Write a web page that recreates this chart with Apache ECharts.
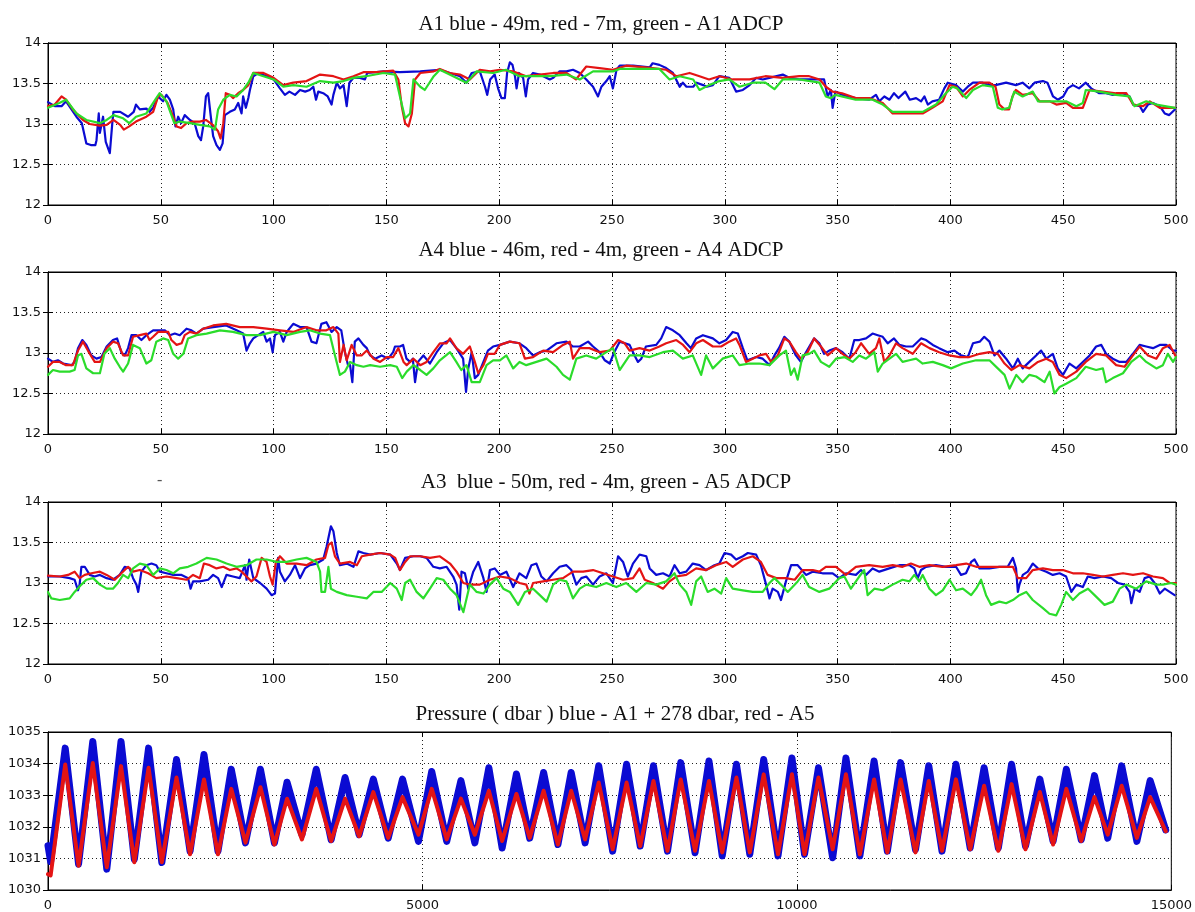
<!DOCTYPE html>
<html>
<head>
<meta charset="utf-8">
<script src="https://cdn.jsdelivr.net/npm/echarts@6/dist/echarts.min.js"></script>
<style>
  html, body { margin: 0; padding: 0; background: #fff; }
  #chart { width: 1195px; height: 912px; }
</style>
</head>
<body>
<div id="chart"></div>
<script>
// ---- panel titles ----
const panelTitles = [
  'A1 blue - 49m, red - 7m, green - A1 ADCP',
  'A4 blue - 46m, red - 4m, green - A4 ADCP',
  'A3  blue - 50m, red - 4m, green - A5 ADCP',
  'Pressure ( dbar ) blue - A1 + 278 dbar, red - A5'
];

// ---- tick labels ----
const tempTicksX = [0, 50, 100, 150, 200, 250, 300, 350, 400, 450, 500];
const tempTicksY = [12, 12.5, 13, 13.5, 14];
const pressTicksX = [0, 5000, 10000, 15000];
const pressTicksY = [1030, 1031, 1032, 1033, 1034, 1035];

// ---- A1 mooring: [record, temperature] ----
const a1Blue = [[0,13.27],[3,13.22],[6,13.22],[8,13.28],[12.6,13.09],[15,13.01],[17,12.76],[19,12.74],[21,12.74],[21.5,12.80],[22.5,13.13],[23,12.89],[24.4,13.09],[25.6,12.78],[27.4,12.64],[28,12.62],[28.5,13.01],[29,13.15],[32,13.15],[35.5,13.09],[38,13.15],[39,13.24],[40.7,13.18],[43.6,13.19],[45,13.15],[46.6,13.20],[48.8,13.34],[51,13.28],[52.5,13.36],[54,13.30],[55.5,13.18],[56.5,12.97],[57.7,13.09],[59,13.01],[60.6,13.11],[62.9,13.05],[65,13.01],[66.6,12.85],[67.8,12.80],[68.8,12.97],[70,13.34],[71,13.38],[72,13.13],[73.2,12.85],[74.7,12.74],[76.2,12.68],[77.4,12.76],[78.4,13.11],[80.6,13.15],[82.8,13.18],[84.3,13.26],[85.8,13.13],[86.5,13.34],[87.7,13.20],[88.8,13.32],[89.5,13.42],[91,13.59],[93.2,13.63],[97,13.59],[100,13.55],[102.8,13.44],[105,13.36],[107,13.40],[109.5,13.36],[111.7,13.42],[114,13.40],[116,13.42],[117.6,13.46],[118.8,13.30],[119.8,13.40],[122,13.38],[124,13.34],[125.7,13.24],[126.5,13.36],[128,13.51],[129.4,13.44],[131,13.48],[132.4,13.22],[133.6,13.51],[135.4,13.57],[138.3,13.57],[140.5,13.55],[141.5,13.63],[148.7,13.65],[156,13.64],[165,13.65],[173.7,13.67],[182.6,13.59],[185.5,13.51],[187.8,13.63],[191.4,13.65],[193.7,13.46],[194.7,13.36],[196,13.55],[198,13.61],[199.5,13.44],[201,13.32],[202.5,13.32],[203.5,13.63],[204.7,13.76],[205.9,13.73],[207,13.59],[207.7,13.44],[208.8,13.63],[210.6,13.57],[211.8,13.34],[212.8,13.55],[215,13.63],[218,13.61],[222.4,13.55],[224,13.57],[226.8,13.65],[229.8,13.65],[232.7,13.67],[235.7,13.63],[238.6,13.55],[241.6,13.46],[243.8,13.34],[245.3,13.46],[247.5,13.53],[249,13.59],[250.4,13.44],[252,13.67],[253.4,13.72],[259.3,13.72],[266.7,13.70],[268,13.75],[271,13.73],[274,13.69],[277,13.63],[280,13.46],[281.4,13.51],[283,13.46],[286,13.46],[287.5,13.51],[290.4,13.48],[292,13.46],[294.7,13.48],[297.6,13.59],[302,13.57],[305,13.40],[308,13.42],[311,13.48],[313.9,13.57],[316.8,13.55],[319.8,13.57],[325.7,13.61],[328.6,13.57],[333,13.55],[337.4,13.55],[342,13.55],[344,13.55],[345.6,13.34],[347,13.42],[347.8,13.20],[349,13.40],[352,13.36],[358,13.32],[364,13.30],[367,13.36],[368.5,13.28],[370.7,13.34],[373,13.30],[375,13.38],[377,13.32],[380,13.40],[382,13.30],[384.8,13.32],[387,13.28],[388.5,13.34],[390,13.24],[392,13.28],[395,13.30],[397.3,13.44],[398.8,13.51],[402.5,13.48],[405.5,13.40],[407.7,13.46],[410,13.51],[414.3,13.51],[417.3,13.48],[420,13.48],[424.7,13.51],[429,13.48],[432,13.51],[435,13.44],[437.3,13.51],[441,13.53],[443,13.51],[445.5,13.34],[447.6,13.30],[450,13.34],[452,13.44],[454.3,13.48],[457,13.44],[460,13.51],[462.4,13.44],[466,13.38],[469,13.38],[472,13.36],[476.5,13.38],[479.4,13.34],[481,13.24],[484,13.22],[485.4,13.15],[487.6,13.24],[489.8,13.26],[492.8,13.22],[495,13.13],[497,13.11],[499.5,13.18]];
const a1Red = [[0,13.22],[3,13.24],[6,13.34],[8,13.30],[11,13.18],[15.5,13.05],[18.5,13.00],[23,12.98],[26,12.99],[29,13.05],[32,12.99],[33.6,12.93],[36,12.97],[39,13.03],[43.6,13.09],[46.6,13.15],[48.8,13.34],[50.3,13.36],[53,13.26],[55.5,13.09],[57,12.97],[59,12.95],[61.4,13.01],[64,13.03],[67.3,13.03],[70,13.05],[73,12.99],[75.4,12.91],[76.5,12.82],[77.7,13.01],[78.8,13.38],[80.6,13.36],[82,13.32],[84.3,13.38],[86.5,13.42],[88.8,13.48],[91,13.63],[95.5,13.63],[100,13.57],[104.3,13.48],[108.7,13.51],[114.6,13.53],[120.6,13.61],[126.5,13.59],[131,13.55],[135.4,13.59],[139.8,13.64],[145.7,13.64],[153,13.66],[155.3,13.55],[156.8,13.22],[158.3,13.01],[159.8,12.97],[161.3,13.13],[162.7,13.55],[165,13.63],[171,13.65],[173.7,13.68],[178,13.63],[182.6,13.61],[187,13.55],[191.4,13.67],[196,13.65],[200.3,13.67],[206,13.65],[212,13.59],[218,13.61],[224,13.63],[229.8,13.63],[234,13.55],[238.6,13.71],[244.5,13.69],[250.4,13.67],[256.3,13.72],[268,13.69],[274,13.67],[278.5,13.59],[284.4,13.63],[288.8,13.59],[293,13.55],[297.6,13.59],[303.5,13.55],[311,13.55],[318,13.59],[325.7,13.57],[333,13.59],[337.4,13.59],[342,13.55],[344.8,13.46],[347.8,13.40],[352,13.38],[358,13.32],[364,13.32],[370,13.26],[374.4,13.13],[380,13.13],[387.7,13.13],[392,13.20],[396.6,13.28],[399.6,13.48],[402.5,13.46],[405.5,13.34],[408.4,13.42],[412.9,13.51],[417.3,13.51],[420,13.46],[421.7,13.24],[424,13.18],[426,13.18],[427.5,13.34],[429,13.42],[432,13.36],[436.5,13.38],[439.5,13.28],[444,13.28],[447,13.24],[451.3,13.26],[454.3,13.20],[458.7,13.20],[461.7,13.42],[467.5,13.40],[473.4,13.38],[478,13.38],[481,13.24],[485.4,13.22],[488.4,13.28],[492.8,13.20],[499.5,13.20]];
const a1Green = [[0,13.20],[5,13.26],[8,13.30],[12.6,13.13],[17,13.05],[23,13.01],[26,13.05],[29,13.11],[33.3,13.07],[36,13.01],[39,13.09],[43.6,13.13],[48,13.32],[49.5,13.38],[52.5,13.28],[56,13.01],[58.4,13.03],[63,13.01],[67.3,12.99],[71.7,12.97],[74,12.93],[75.4,13.18],[77.7,13.30],[80.6,13.36],[83.6,13.34],[86.5,13.42],[88.8,13.51],[91,13.63],[95.5,13.59],[100,13.55],[104.3,13.46],[108.7,13.48],[114.6,13.46],[120.6,13.53],[126.5,13.51],[131,13.53],[135.4,13.57],[141,13.59],[148.7,13.63],[153.8,13.61],[156,13.34],[158.3,13.07],[160.5,13.13],[162,13.55],[165,13.46],[167,13.42],[171,13.59],[173.7,13.67],[179.6,13.59],[185.5,13.51],[190,13.65],[197.3,13.63],[203,13.67],[209,13.59],[215,13.59],[222.4,13.59],[229.8,13.61],[235.7,13.55],[241.6,13.65],[250.4,13.65],[253.4,13.68],[271,13.68],[275.5,13.55],[280,13.59],[286,13.55],[288.8,13.42],[293,13.48],[297.6,13.53],[302,13.55],[306.5,13.46],[312.4,13.51],[318,13.51],[322,13.43],[325.7,13.55],[333,13.55],[342,13.51],[344.8,13.34],[347,13.32],[349,13.36],[358,13.30],[365.5,13.30],[370,13.24],[374.4,13.15],[380,13.15],[387.7,13.15],[393.6,13.24],[398,13.38],[401,13.46],[403,13.44],[407,13.32],[410,13.42],[414.3,13.48],[418.8,13.46],[421,13.20],[423,13.18],[426,13.20],[428.3,13.40],[432,13.34],[436.5,13.40],[438.8,13.28],[445.5,13.28],[451.3,13.28],[455.8,13.22],[458.7,13.26],[460,13.42],[466,13.40],[473.4,13.36],[479.4,13.34],[481.6,13.22],[486.8,13.28],[491.3,13.24],[499.5,13.20]];

// ---- A4 mooring ----
const a4Blue = [[0,12.93],[2.2,12.89],[4.4,12.91],[6.7,12.87],[10.4,12.85],[11.8,12.89],[13.3,13.06],[15.2,13.16],[17,13.10],[19.2,12.97],[21.5,12.93],[23.7,12.95],[26,13.08],[28.8,13.16],[30.6,13.18],[32.5,13.01],[34,12.97],[35.5,13.06],[37,13.22],[39.2,13.22],[41.4,13.16],[43.6,13.22],[46.6,13.28],[49.6,13.28],[51.8,13.28],[54,13.22],[56.2,13.24],[58.4,13.22],[61.4,13.30],[63.6,13.28],[65.8,13.24],[68.8,13.30],[73.2,13.32],[79,13.34],[83.6,13.28],[86.5,13.24],[88,13.03],[89.5,13.12],[91,13.18],[93.2,13.22],[95.4,13.26],[96.9,13.14],[98.4,13.18],[99.6,13.01],[100.6,13.22],[102.8,13.26],[104.3,13.14],[105.8,13.26],[108.7,13.36],[111.7,13.32],[114.6,13.32],[116.8,13.14],[119,13.12],[121.2,13.36],[123.4,13.38],[125.7,13.26],[128,13.32],[130,13.28],[131.6,13.01],[133,12.85],[133.9,12.85],[134.9,12.64],[136,13.14],[137.6,13.18],[139.8,13.10],[141.3,13.06],[142.8,12.97],[145,12.93],[147.9,12.97],[150.8,12.93],[153,13.01],[153.8,13.08],[156,13.08],[157.4,13.10],[158.9,12.93],[160.5,12.89],[161.7,12.93],[162.7,12.64],[164,12.89],[166.4,12.97],[169.3,12.87],[172.3,13.01],[175.2,13.12],[178.2,13.16],[181,13.06],[184,12.93],[185.3,12.52],[186.3,12.81],[187.8,13.01],[189.2,12.69],[190.7,12.73],[193,12.89],[195,13.03],[197.3,13.08],[200.3,13.10],[204.7,13.14],[209,13.12],[212,13.06],[215,12.97],[218,13.01],[221,13.03],[225.4,13.12],[229.8,13.14],[232.7,13.08],[235.7,13.08],[239.4,13.14],[241.6,13.08],[244.5,13.01],[246.8,12.91],[249,12.87],[251,13.01],[253.4,13.14],[257.8,13.10],[260,12.97],[261.5,12.89],[263,12.93],[265,13.08],[269.6,13.10],[271.8,13.18],[274,13.32],[277,13.28],[280,13.22],[283,13.12],[285,13.06],[287.3,13.18],[290.3,13.22],[294.7,13.18],[297.6,13.12],[300.6,13.16],[303.5,13.26],[305.8,13.24],[308,13.06],[310,12.91],[313.9,12.95],[316.8,12.93],[319.8,12.85],[322,12.97],[324,13.06],[326.4,13.20],[328.6,13.14],[331.5,12.97],[333.7,12.89],[336,13.01],[339.6,13.18],[341.9,13.12],[344,12.99],[346.3,13.03],[349.3,13.06],[352.2,13.01],[355.2,12.93],[357.4,13.16],[359.6,13.16],[362.6,13.18],[365.5,13.24],[367.8,13.22],[370,13.20],[372.2,13.12],[375,13.18],[377.4,13.10],[380.3,13.08],[383.3,13.08],[387,13.18],[389.2,13.16],[392.2,13.10],[395,13.06],[398.8,13.01],[401.8,13.03],[404.7,12.97],[407.7,12.95],[410,13.12],[413,13.14],[415,13.20],[417.3,13.14],[419.5,12.97],[421.7,13.03],[424.7,12.93],[427.7,12.81],[429.9,12.93],[432,12.81],[435,12.89],[438,12.97],[440.2,13.03],[442.5,12.93],[445.4,12.99],[447.6,12.81],[449.9,12.73],[452.8,12.87],[455.8,12.81],[458.7,12.89],[461.7,12.97],[464.6,13.08],[466.9,13.10],[469,12.99],[472,12.93],[475,12.89],[478,12.89],[480.9,12.99],[483.9,13.10],[486.8,13.08],[489.8,13.06],[492.8,13.10],[495.7,13.10],[498.7,13.03],[500,13.03]];
const a4Red = [[0,12.83],[2.2,12.89],[5.2,12.89],[8,12.85],[11,12.85],[13.3,13.03],[15.5,13.14],[17.7,13.03],[20.7,12.89],[23,12.89],[26,13.06],[28.8,13.14],[31,13.12],[33.3,12.97],[35.5,12.97],[37.7,13.20],[40.7,13.22],[43.6,13.24],[45,13.16],[46.6,13.20],[48.8,13.26],[51,13.26],[53.3,13.26],[54.7,13.16],[57,13.10],[59.2,13.12],[60.6,13.22],[62.9,13.26],[65.8,13.24],[68.8,13.30],[73.2,13.34],[79,13.36],[85,13.32],[91,13.32],[96.9,13.30],[102.8,13.28],[108.7,13.26],[114.6,13.32],[119,13.28],[123.4,13.28],[126.5,13.32],[128.7,13.24],[129.4,12.89],[131,13.10],[132.4,12.91],[134.6,13.10],[136.9,12.97],[139,12.97],[141.3,13.03],[144.3,12.93],[147.2,12.89],[150.2,12.95],[153,12.95],[155.3,13.06],[157.6,12.89],[159,12.85],[162,12.93],[165,12.85],[167.8,12.89],[170.8,13.01],[173.7,13.12],[176.7,13.12],[178.2,13.18],[181,13.06],[184,12.99],[187,13.08],[189.2,12.89],[190.7,12.75],[193,12.85],[195,12.99],[198,12.99],[200.3,13.10],[204.7,13.14],[209,13.12],[211.4,12.93],[215,12.95],[219.5,13.03],[223.9,13.01],[228.3,13.10],[231.3,13.14],[232.7,12.93],[235.7,13.06],[240,13.06],[244.5,13.01],[249,13.03],[252.7,13.16],[255.6,13.12],[257.8,13.03],[262.2,13.06],[266.7,13.03],[271,13.08],[274,13.12],[278.5,13.16],[281.5,13.10],[284.4,13.01],[287.3,13.12],[290.3,13.16],[294.7,13.08],[298.4,13.08],[302,13.14],[305,13.18],[306.5,13.10],[309.4,12.89],[312.4,12.93],[315.3,12.97],[318.3,12.99],[320.5,12.89],[323.5,12.97],[326.4,13.18],[328.6,13.14],[331.5,13.01],[333.7,12.93],[336.7,13.01],[339.6,13.18],[342.6,13.08],[345.6,12.97],[349.3,13.06],[352.2,12.99],[355.2,12.93],[358,13.01],[360.4,13.12],[364,12.99],[367,13.06],[368.5,13.18],[370.7,12.89],[373,12.97],[375.9,13.12],[378.8,13.06],[383.3,12.99],[387,13.12],[390.7,13.06],[395,13.01],[399.6,12.97],[404,12.95],[408.4,12.95],[413,12.99],[417.3,13.01],[421,12.99],[424,12.87],[427,12.79],[430.6,12.85],[435,12.81],[438.8,12.89],[442.5,12.93],[445.4,12.89],[448.4,12.73],[451.3,12.69],[455.8,12.77],[460,12.89],[464.6,12.99],[469,12.97],[473.5,12.85],[477.2,12.83],[480.9,12.97],[483.9,13.08],[487.6,12.97],[491.3,12.93],[494.2,13.06],[497.2,13.10],[500,12.95]];
const a4Green = [[0,12.73],[2.2,12.79],[5.2,12.77],[9.6,12.77],[11.8,12.79],[13.3,12.97],[14.8,12.99],[17,12.81],[20,12.75],[23,12.75],[25,12.99],[27.4,13.06],[29.6,12.93],[31.8,12.83],[33.3,12.77],[35.5,12.87],[37.7,13.10],[40.7,13.06],[43.6,12.87],[45.8,12.91],[48,13.14],[51,13.18],[53.3,13.16],[55.5,12.99],[57.7,12.93],[60,12.99],[62.1,13.18],[65.8,13.22],[70.3,13.24],[76.2,13.28],[82,13.26],[88,13.22],[94,13.22],[99.9,13.26],[105.8,13.22],[111.7,13.26],[116,13.28],[120.6,13.24],[125,13.22],[127.2,12.97],[129.4,12.73],[131.6,12.77],[133.9,12.89],[136.9,12.85],[139.8,12.83],[142.8,12.85],[147.2,12.83],[151.7,12.85],[154.6,12.83],[157,12.69],[159,12.77],[162,12.85],[165,12.79],[167.8,12.73],[170.8,12.81],[173.7,12.91],[178.2,13.01],[181,12.89],[183.2,12.79],[185.5,12.85],[187.8,12.64],[191.4,12.64],[194.4,12.85],[197.3,12.91],[200.3,12.91],[203.2,12.97],[206.2,12.81],[209,12.89],[212,12.85],[216.5,12.89],[221,12.93],[225.4,12.83],[228.3,12.73],[231.3,12.67],[234.2,12.93],[238.6,12.97],[243,12.93],[247.5,13.01],[250.4,13.06],[253.4,12.79],[257.8,12.97],[262.2,12.97],[266.7,12.95],[272.6,13.01],[277,13.03],[281.4,12.93],[285.8,12.97],[289.5,12.73],[291.7,12.97],[294.7,12.81],[299,12.93],[303.5,12.97],[306.5,12.85],[311,12.87],[315.3,12.87],[319.8,12.85],[324.2,12.97],[327.1,13.03],[329.3,12.73],[330.8,12.81],[332.3,12.67],[334.5,12.97],[337.4,12.99],[339.6,13.03],[342.6,12.89],[346.3,12.83],[349.3,12.93],[353,12.95],[356.7,12.89],[359.6,12.97],[362.6,12.93],[366.3,13.01],[367.8,12.77],[370,12.87],[373,12.93],[375.9,12.99],[378.8,12.89],[381.8,12.91],[384.8,12.93],[387.7,12.87],[392.2,12.89],[396.6,12.85],[400.3,12.81],[405.5,12.87],[411.4,12.91],[417.3,12.91],[421,12.81],[424,12.73],[426.2,12.56],[429.2,12.73],[432,12.64],[435,12.73],[438,12.71],[441.7,12.64],[444,12.77],[446.1,12.50],[448.4,12.58],[451.3,12.62],[455.8,12.69],[460,12.83],[464.6,12.79],[467.6,12.81],[469,12.64],[472,12.69],[476.5,12.75],[480.2,12.89],[483.9,12.97],[486.8,12.89],[491.3,12.81],[494.2,12.85],[496.4,12.99],[498.7,12.89],[500,12.95]];

// ---- A3 / A5 moorings ----
const a3Blue = [[0,13.08],[5.2,13.08],[9.6,13.06],[11.8,13.04],[13.3,12.91],[14,12.98],[14.8,13.20],[16.3,13.20],[18.5,13.10],[20.7,13.08],[23,13.10],[26,13.06],[28.8,13.04],[31.8,13.10],[34,13.20],[36.2,13.18],[37.7,13.06],[39.2,12.98],[40,12.89],[41.4,13.14],[43.6,13.22],[45.9,13.24],[48,13.22],[49.6,13.14],[52.5,13.12],[55.5,13.10],[59.2,13.10],[62.1,13.06],[63.2,12.93],[64.3,13.02],[67.3,13.02],[71,13.04],[73.2,13.10],[75.4,13.06],[77,12.95],[79.1,13.10],[82,13.08],[85,13.06],[87.3,13.22],[88,13.04],[89.2,13.29],[91,13.06],[94,13.00],[96.9,12.93],[99.1,12.85],[100.6,12.87],[102,13.31],[102.8,13.14],[105,13.02],[107.2,13.10],[109.5,13.22],[111.7,13.06],[113.9,13.18],[116.1,13.22],[119,13.24],[122,13.29],[123.5,13.45],[125.4,13.70],[126.5,13.64],[128,13.37],[129.4,13.22],[132.4,13.24],[135.4,13.20],[137.6,13.39],[139.8,13.37],[142.8,13.35],[147.2,13.37],[151.7,13.35],[154.6,13.24],[156,13.16],[158.3,13.31],[162,13.33],[165,13.33],[167.8,13.31],[170.8,13.20],[173.7,13.18],[176.7,13.20],[179.6,13.08],[181.1,12.98],[182.3,12.67],[183.3,13.14],[184.8,13.12],[186.3,12.93],[188.5,13.14],[190.7,13.26],[193,13.06],[194.4,12.89],[195.9,13.16],[198,13.18],[200.3,13.10],[203.2,13.14],[206.2,12.95],[209,13.12],[212,13.06],[214.3,13.22],[216.5,13.24],[218.7,13.08],[221,13.02],[223.9,13.12],[226.8,13.20],[229.8,13.22],[232,13.16],[234.2,12.98],[236.4,13.06],[238.6,13.08],[241.6,12.98],[244.5,13.08],[247.5,13.12],[250.4,13.00],[252.7,13.33],[254.9,13.26],[257,13.08],[259.3,13.24],[262.2,13.35],[265.2,13.33],[266.7,13.18],[269.6,13.10],[272.6,13.12],[275.5,13.08],[277.7,13.22],[280,13.12],[282.9,13.14],[285.8,13.24],[288.8,13.22],[291.7,13.16],[295.4,13.22],[297.6,13.24],[299.9,13.37],[302.8,13.35],[305,13.29],[308,13.33],[310.2,13.37],[313.9,13.35],[316,13.22],[318.3,12.98],[319.8,12.81],[321.2,12.93],[323.5,12.89],[324.9,12.79],[327.1,13.02],[329.4,13.22],[332.3,13.22],[336,13.10],[338.9,13.14],[343.3,13.12],[347.8,13.12],[350.7,13.06],[353.7,13.12],[358.1,13.10],[360.4,13.16],[362.6,13.10],[365.5,13.18],[368.5,13.14],[372.9,13.18],[377.4,13.22],[381.8,13.22],[384,13.18],[385.5,13.06],[387,13.16],[389.2,13.20],[393.6,13.22],[398,13.20],[402.5,13.20],[404.7,13.10],[406.9,13.12],[409.2,13.26],[410.7,13.29],[412.9,13.18],[417.3,13.18],[421.7,13.20],[425.4,13.20],[427.7,13.31],[429.1,13.18],[429.9,12.89],[430.6,12.98],[432.1,13.10],[434.3,13.14],[436.5,13.24],[438.8,13.18],[442.5,13.14],[445.4,13.10],[448.4,13.12],[451.3,13.08],[453.6,12.89],[455.8,12.98],[458.7,12.95],[460.9,13.08],[463.9,13.06],[467.6,13.08],[471.3,13.06],[474.3,13.00],[477.2,12.98],[479.4,12.89],[480.2,12.75],[481.7,12.93],[483.9,12.89],[486.1,13.06],[488.3,13.08],[490.5,13.00],[492.8,12.87],[495,12.93],[497.2,12.89],[499.4,12.85]];
const a3Red = [[0,13.09],[5.2,13.08],[8.9,13.10],[11.8,13.14],[14,13.06],[16.3,13.10],[19.2,13.12],[23,13.14],[26,13.10],[29.6,13.04],[32.5,13.12],[35.5,13.20],[37.7,13.14],[40.7,13.16],[44.4,13.12],[48,13.06],[52.5,13.08],[57,13.06],[61.4,13.04],[64.3,13.10],[67.3,13.06],[69.1,13.24],[71.7,13.22],[74.7,13.18],[77.7,13.20],[80.6,13.16],[83.6,13.18],[85.8,13.14],[88,13.08],[90.2,13.02],[92.4,13.08],[94.7,13.31],[96.9,13.26],[98.4,13.08],[99.6,12.98],[101,13.26],[102.8,13.33],[105.8,13.24],[110.2,13.24],[114.6,13.22],[119,13.29],[122.8,13.31],[124.3,13.47],[125.7,13.50],[127.2,13.33],[129.4,13.24],[133.9,13.26],[136.9,13.22],[139.1,13.33],[142.8,13.35],[147.2,13.37],[151.7,13.35],[153.9,13.31],[156,13.16],[158.3,13.26],[160.5,13.33],[165,13.33],[169.3,13.31],[173.7,13.33],[178.2,13.24],[181.1,13.14],[184.1,13.00],[187,12.98],[191.4,12.98],[195.9,13.04],[200.3,13.08],[204.7,13.06],[209,13.00],[212,12.98],[213.4,12.87],[215,13.00],[219.5,13.02],[223.9,13.04],[228.3,13.06],[232.7,13.14],[237.2,13.14],[241.6,13.16],[246,13.12],[250.4,13.08],[254.9,13.04],[259.3,13.06],[262.2,13.18],[264.5,13.04],[268.1,13.00],[272.6,12.93],[275.5,13.02],[278.5,13.08],[282.9,13.10],[287.3,13.18],[291.7,13.16],[296.1,13.22],[300.6,13.26],[303.5,13.20],[308,13.29],[312.4,13.33],[316,13.26],[319,13.10],[322.8,13.06],[327.1,13.06],[331,13.04],[334.5,13.16],[339,13.16],[341.9,13.14],[344.8,13.20],[349.3,13.20],[353.7,13.10],[358.1,13.20],[364,13.22],[370,13.20],[374.4,13.22],[378.8,13.20],[382.5,13.24],[386.2,13.20],[390.7,13.22],[396.6,13.20],[402.5,13.22],[407,13.24],[411.4,13.20],[417.3,13.20],[423.2,13.20],[427.7,13.20],[429.9,13.06],[433.6,13.06],[436.5,13.16],[441,13.18],[445.4,13.16],[449.9,13.16],[454.3,13.12],[458.7,13.12],[463.2,13.10],[467.6,13.08],[472,13.10],[476.5,13.12],[480.9,13.10],[485.4,13.12],[489.8,13.08],[494.2,13.06],[497.2,13.00],[500,13.00]];
const a5Green = [[0,12.89],[1.5,12.81],[5.2,12.79],[9.6,12.81],[11.8,12.89],[14.8,12.98],[17,13.04],[20,13.06],[23,12.98],[26,12.93],[28.8,12.93],[31,13.00],[33.3,13.10],[35.5,13.06],[37.7,13.18],[40.7,13.24],[43.6,13.22],[46.6,13.10],[49.6,13.18],[52.5,13.16],[55.5,13.12],[58.4,13.18],[62.1,13.20],[65.8,13.24],[70.3,13.31],[74.7,13.29],[79.1,13.24],[83.6,13.20],[88,13.22],[92.4,13.29],[96.9,13.29],[101.3,13.26],[105.8,13.26],[110.2,13.29],[114.6,13.31],[119,13.26],[120.6,13.14],[121.2,12.89],[122.8,12.89],[124.3,13.20],[125.4,12.93],[128,12.89],[132.4,12.85],[136.9,12.83],[141.3,12.81],[144.2,12.89],[147.9,12.89],[151.7,13.00],[154.6,12.93],[156.8,12.79],[158.3,13.00],[160.5,13.04],[163.4,12.89],[166.4,12.81],[169.3,12.93],[172.3,13.06],[175.2,13.04],[178.2,12.93],[181.1,12.85],[184.1,12.64],[187,12.98],[190,12.89],[193,12.87],[195.9,12.98],[198.8,13.06],[201.8,12.93],[204.7,12.89],[208.4,12.73],[211.4,12.89],[215,12.93],[218,12.85],[221,12.77],[223.9,12.98],[226.8,13.04],[229.8,13.02],[232.7,12.81],[235.7,12.93],[238.6,12.98],[243,12.95],[247.5,13.00],[251.9,12.95],[256.3,13.00],[260.8,12.89],[265.2,13.00],[269.6,12.98],[274,13.02],[277.7,13.12],[280,12.98],[282.9,12.89],[285.1,12.73],[287.3,13.02],[289.5,13.08],[292.4,12.89],[295.4,12.93],[298.4,12.87],[300.6,13.06],[303.5,12.93],[308,12.91],[312.4,12.89],[316.8,12.89],[319.8,13.00],[322,13.06],[324.9,12.98],[327.9,12.89],[332.3,13.02],[334.5,13.10],[337.4,12.95],[341.9,12.89],[346.3,12.93],[350.7,13.06],[353,13.08],[355.9,12.93],[359.6,13.08],[361.8,13.16],[363.3,12.85],[366.3,12.93],[370,12.91],[374.4,12.98],[378.8,13.04],[381.8,13.02],[384,13.10],[386.2,13.02],[387.7,13.10],[390.7,12.93],[393.6,12.85],[396.6,12.91],[399.6,13.04],[402.5,12.91],[405.5,12.93],[409.2,12.85],[411.4,12.93],[413.6,13.04],[415.8,12.85],[418,12.73],[421.7,12.77],[424.7,12.75],[427.7,12.79],[430.6,12.85],[433.6,12.89],[436.5,12.79],[441,12.69],[443.9,12.62],[446.9,12.60],[449.1,12.73],[451.3,12.89],[454.3,12.79],[457.2,12.87],[461,12.93],[463.9,12.85],[468.3,12.73],[472,12.77],[475,12.93],[478,12.98],[482.4,12.93],[486.8,13.02],[491.3,12.98],[494.2,12.98],[497.9,13.00],[500,12.98]];

// ---- pressure: tidal turning points ----
const pressTime = [0,35,230,408,598,785,975,1153,1343,1520,1716,1897,2083,2270,2447,2637,2837,3023,3192,3391,3582,3781,3967,4154,4344,4543,4734,4947,5124,5324,5514,5700,5887,6064,6255,6432,6618,6809,6986,7172,7354,7540,7726,7908,8085,8272,8449,8640,8826,9003,9193,9371,9557,9748,9934,10102,10288,10478,10655,10841,11031,11208,11385,11584,11761,11938,12124,12314,12500,12690,12867,13053,13244,13421,13598,13797,13974,14151,14337,14540,14717,14925];
const pressA1 = [1031.4,1030.9,1034.49,1030.82,1034.70,1030.66,1034.70,1030.97,1034.49,1030.87,1034.13,1031.23,1034.29,1031.23,1033.82,1031.49,1033.82,1031.49,1033.41,1031.75,1033.82,1031.59,1033.56,1031.75,1033.51,1031.64,1033.51,1031.54,1033.75,1031.54,1033.46,1031.49,1033.87,1031.33,1033.67,1031.64,1033.72,1031.44,1033.72,1031.49,1033.93,1031.23,1033.98,1031.39,1033.93,1031.23,1034.03,1031.18,1034.08,1031.08,1033.98,1031.13,1034.13,1031.08,1034.18,1031.13,1033.87,1031.02,1034.18,1031.08,1034.08,1031.23,1034.03,1031.28,1033.93,1031.23,1033.98,1031.33,1033.87,1031.33,1033.98,1031.39,1033.51,1031.54,1033.82,1031.59,1033.62,1031.64,1033.93,1031.54,1033.46,1031.9];
const pressA5 = [1030.5,1030.46,1033.97,1030.77,1034.02,1030.72,1033.92,1030.88,1033.87,1030.88,1033.56,1031.13,1033.5,1031.13,1033.2,1031.5,1033.25,1031.44,1032.89,1031.6,1033.2,1031.55,1032.89,1031.7,1033.1,1031.65,1032.94,1031.75,1033.2,1031.6,1032.89,1031.75,1033.14,1031.55,1033.04,1031.65,1033.14,1031.44,1033.14,1031.6,1033.4,1031.29,1033.4,1031.39,1033.45,1031.24,1033.5,1031.24,1033.45,1031.19,1033.56,1031.19,1033.66,1031.13,1033.66,1031.13,1033.56,1031.29,1033.66,1031.13,1033.5,1031.19,1033.5,1031.19,1033.45,1031.24,1033.5,1031.29,1033.3,1031.24,1033.35,1031.29,1033.1,1031.44,1033.2,1031.55,1032.94,1031.75,1033.3,1031.65,1032.94,1031.86];

// ---- layout and styling ----
const BLUE = '#0b0bd2', RED = '#e41414', GREEN = '#2bdc2b';
const plotLeft = 48, plotRight = 19, plotHeight = 162;
const panelTop = [43, 272, 502, 732];
const titleTop = [9, 235, 467, 699];
const titleCenter = [596, 596, 601, 610];
const labelFont = { fontFamily: 'DejaVu Sans', fontSize: 13, color: '#111' };
const dotted = { show: true, lineStyle: { color: '#222', width: 1, type: [1, 3] } };

const grids = panelTop.map(t => ({
  left: plotLeft, right: plotRight, top: t, height: plotHeight,
  show: true, borderColor: '#000', borderWidth: 1, backgroundColor: '#fff'
}));

const xAxes = [], yAxes = [];
function addAxes(g, xt, yt) {
  const xmin = xt[0], xmax = xt[xt.length - 1], xint = xt[1] - xt[0];
  const ymin = yt[0], ymax = yt[yt.length - 1], yint = yt[1] - yt[0];
  const tick = { show: true, inside: true, length: 5, lineStyle: { color: '#000' } };
  const line = { show: true, lineStyle: { color: '#000', width: 1 } };
  xAxes.push({ type: 'value', gridIndex: g, position: 'bottom', min: xmin, max: xmax, interval: xint,
    axisLine: line, axisTick: tick, splitLine: dotted,
    axisLabel: Object.assign({ margin: 9, formatter: v => String(v), showMinLabel: true, showMaxLabel: true }, labelFont) });
  xAxes.push({ type: 'value', gridIndex: g, position: 'top', min: xmin, max: xmax, interval: xint,
    axisLine: line, axisTick: tick, splitLine: { show: false }, axisLabel: { show: false } });
  yAxes.push({ type: 'value', gridIndex: g, position: 'left', min: ymin, max: ymax, interval: yint,
    axisLine: line, axisTick: tick, splitLine: dotted,
    axisLabel: Object.assign({ margin: 7, formatter: v => String(v) }, labelFont) });
  yAxes.push({ type: 'value', gridIndex: g, position: 'right', min: ymin, max: ymax, interval: yint,
    axisLine: line, axisTick: tick, splitLine: { show: false }, axisLabel: { show: false } });
}
addAxes(0, tempTicksX, tempTicksY);
addAxes(1, tempTicksX, tempTicksY);
addAxes(2, tempTicksX, tempTicksY);
addAxes(3, pressTicksX, pressTicksY);

function lineSeries(name, data, g, color, width) {
  return {
    name, type: 'line', data, xAxisIndex: 2 * g, yAxisIndex: 2 * g,
    showSymbol: false, symbol: 'none', smooth: false, silent: true,
    lineStyle: { color, width, join: 'round', cap: 'round' }, z: 3
  };
}

const pressBlueData = pressTime.map((t, i) => [t, pressA1[i]]);
const pressRedData = pressTime.map((t, i) => [t, pressA5[i]]);

const series = [
  lineSeries('A1 49m', a1Blue, 0, BLUE, 2.2),
  lineSeries('A1 7m', a1Red, 0, RED, 2.2),
  lineSeries('A1 ADCP', a1Green, 0, GREEN, 2.2),
  lineSeries('A4 46m', a4Blue, 1, BLUE, 2.2),
  lineSeries('A4 4m', a4Red, 1, RED, 2.2),
  lineSeries('A4 ADCP', a4Green, 1, GREEN, 2.2),
  lineSeries('A3 50m', a3Blue, 2, BLUE, 2.2),
  lineSeries('A3 4m', a3Red, 2, RED, 2.2),
  lineSeries('A5 ADCP', a5Green, 2, GREEN, 2.2),
  lineSeries('A1 + 278 dbar', pressBlueData, 3, BLUE, 7),
  lineSeries('A5', pressRedData, 3, RED, 4)
];

const chart = echarts.init(document.getElementById('chart'), null, { renderer: 'canvas' });
chart.setOption({
  animation: false,
  backgroundColor: '#fff',
  title: panelTitles.map((text, i) => ({
    text, left: titleCenter[i], top: titleTop[i], textAlign: 'center',
    textStyle: { fontFamily: 'Liberation Serif', fontSize: 21, fontWeight: 'normal', color: '#111' }
  })),
  grid: grids,
  xAxis: xAxes,
  yAxis: yAxes,
  series,
  graphic: [{
    type: 'text', left: 157, top: 473,
    style: { text: '-', fontFamily: 'Liberation Serif', fontSize: 16, fill: '#555' }
  }]
});
</script>
</body>
</html>
